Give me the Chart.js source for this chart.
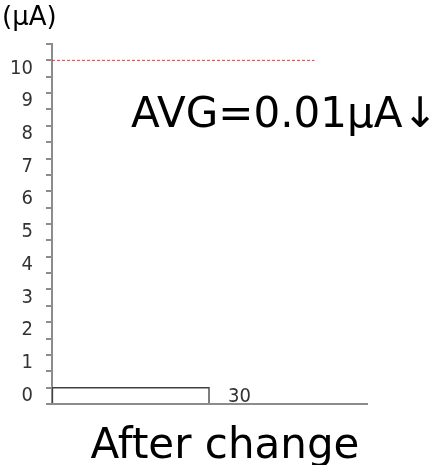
<!DOCTYPE html>
<html>
<head>
<meta charset="utf-8">
<script src="https://cdn.jsdelivr.net/npm/chart.js@4"></script>
<style>
  html, body { margin: 0; padding: 0; background: #fff; }
  #wrap { width: 433px; height: 465px; }
</style>
</head>
<body>
<div id="wrap"><canvas id="chart"></canvas></div>
<script>
// histogram bin (upper edge label) and averaged current
var binEdges = [0, 30];
var binLabel = '30';
var avgValues = [0.01];
var limitValue = 10;
var limitSpan = [0, 50];
var yTickLabels = ['0', '1', '2', '3', '4', '5', '6', '7', '8', '9', '10'];

var unitText = '(\u03bcA)';
var avgText = 'AVG=0.01\u03bcA\u2193';
var titleText = 'After change';

var tickFont = { family: "'Liberation Sans Narrow', 'DejaVu Sans Condensed', sans-serif", size: 20 };

var textPlugin = {
    id: 'texts',
    afterDraw: function(chart) {
        var c = chart.ctx;
        c.save();
        c.fillStyle = '#000';
        c.textAlign = 'left';
        c.textBaseline = 'alphabetic';
        c.font = "26px 'DejaVu Sans', Verdana, sans-serif";
        c.fillText(unitText, 2, 25);
        c.font = "42px 'DejaVu Sans', Verdana, sans-serif";
        c.fillText(avgText, 131, 127);
        c.textAlign = 'center';
        c.fillText(titleText, 225, 458);
        c.restore();
    }
};

var ctx = document.getElementById('chart').getContext('2d');
window.histChart = new Chart(ctx, {
    type: 'bar',
    data: {
        datasets: [{
            type: 'bar',
            data: avgValues.map(function(v) { return { x: (binEdges[0] + binEdges[1]) / 2, y: v }; }),
            base: -0.5,
            backgroundColor: '#ffffff',
            borderColor: '#404040',
            borderWidth: 1.5,
            categoryPercentage: 1,
            barPercentage: 1,
            order: 2
        }, {
            type: 'line',
            data: [{ x: limitSpan[0], y: limitValue }, { x: limitSpan[1], y: limitValue }],
            borderColor: '#ff3030',
            borderWidth: 1,
            borderDash: [3, 2],
            pointRadius: 0,
            fill: false,
            order: 1
        }]
    },
    options: {
        responsive: true,
        maintainAspectRatio: false,
        animation: false,
        layout: { padding: { left: 0, right: 66, top: 44, bottom: 0 } },
        plugins: {
            legend: { display: false },
            title: { display: false },
            tooltip: { enabled: false }
        },
        scales: {
            x: {
                type: 'linear',
                offset: false,
                min: 0,
                max: 60,
                afterFit: function(s) { s.height = 61; },
                border: { color: '#8c8c8c', width: 2 },
                grid: { drawOnChartArea: false, drawTicks: false },
                ticks: {
                    stepSize: 30,
                    autoSkip: false,
                    maxRotation: 0,
                    mirror: true,
                    padding: -5,
                    labelOffset: 30,
                    color: '#333',
                    font: tickFont,
                    callback: function(v) { return v === binEdges[1] ? binLabel : ''; }
                }
            },
            y: {
                min: -0.5,
                max: 10.5,
                afterFit: function(s) { s.width = 52; },
                border: { color: '#8c8c8c', width: 2 },
                grid: { drawOnChartArea: false, drawTicks: true, tickLength: 6, color: '#8c8c8c', lineWidth: 2 },
                ticks: {
                    stepSize: 0.5,
                    autoSkip: false,
                    padding: 13,
                    labelOffset: 8,
                    color: '#333',
                    font: tickFont,
                    callback: function(v) {
                        return Number.isInteger(v) && v >= 0 ? yTickLabels[v] : '';
                    }
                }
            }
        }
    },
    plugins: [textPlugin]
});
</script>
</body>
</html>
